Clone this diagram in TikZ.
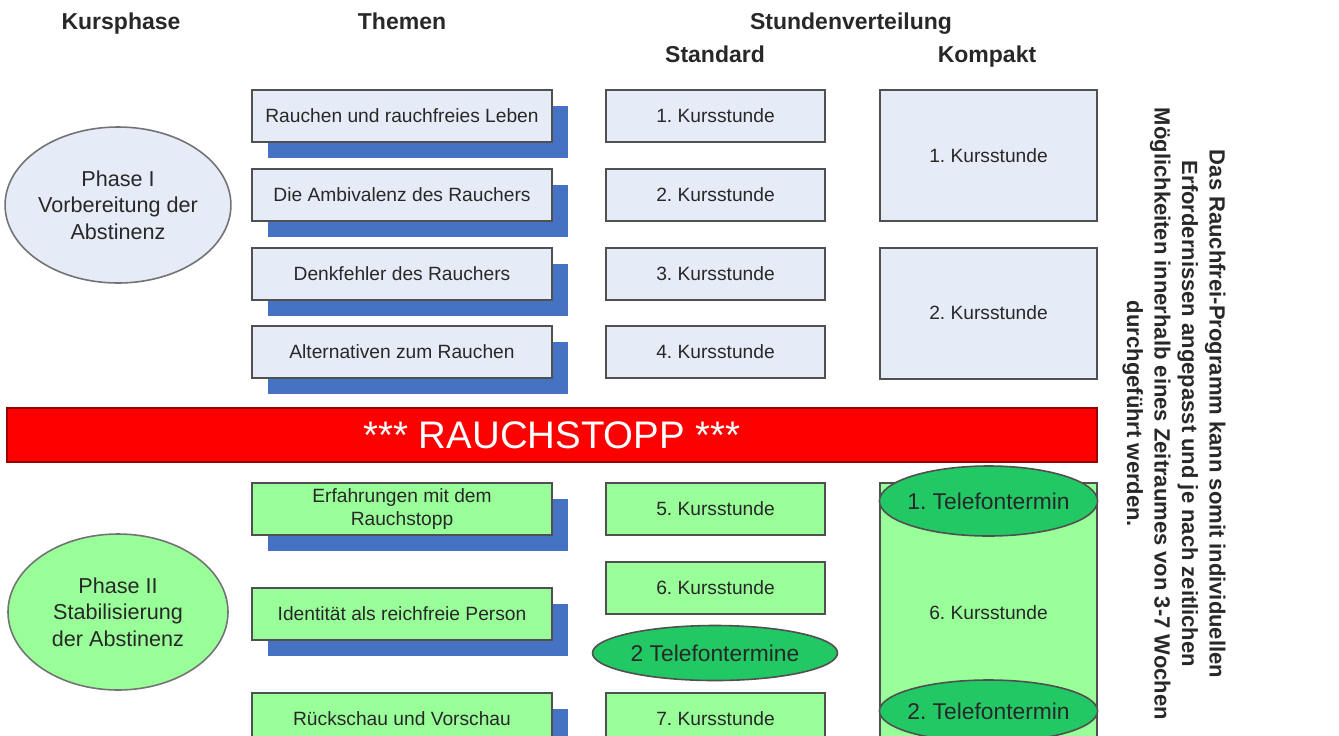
\documentclass[tikz,border=0pt]{standalone}
\usepackage{fontspec}
\setmainfont{Liberation Sans}
\frenchspacing
\usetikzlibrary{shapes.geometric}
\usetikzlibrary{shadows}
\definecolor{mblue}{RGB}{230, 236, 247}
\definecolor{mshadow}{RGB}{70, 114, 196}
\definecolor{mgreen}{RGB}{153, 255, 153}
\definecolor{mdgreen}{RGB}{34, 200, 100}
\definecolor{mred}{RGB}{255, 0, 0}
\definecolor{mline}{RGB}{80, 80, 80}
\definecolor{mtext}{RGB}{40, 40, 40}
\tikzset{thema/.style = {draw=mline, line width=1pt, minimum width=150pt, minimum height=26pt,
                         inner sep=2pt, align=center, text=mtext, font=\fontsize{9.6}{11.5}\selectfont,
                         copy shadow={shadow xshift=8pt, shadow yshift=-8pt, fill=mshadow, draw=none}},
         stunde/.style = {draw=mline, line width=1pt, minimum width=109.5pt, minimum height=26pt,
                          text=mtext, font=\fontsize{9.6}{11.5}\selectfont},
         phase/.style = {ellipse, draw=mline!80, line width=0.8pt, minimum width=110pt, minimum height=78pt,
                         align=center, inner sep=0pt, text=mtext, font=\fontsize{10.8}{13.25}\selectfont},
         telefon/.style = {ellipse, draw=mline, fill=mdgreen, line width=0.8pt, inner sep=0pt,
                           text=mtext, font=\fontsize{11.4}{13}\selectfont},
         kopf/.style = {anchor=base, text=mtext, font=\bfseries\fontsize{11.5}{13}\selectfont}}

\begin{document}
\begin{tikzpicture}[x=0.5pt, y=-0.5pt]
    \useasboundingbox (0, 0) rectangle (1339, 735);
    \clip (0, 0) rectangle (1339, 735);

    \node [kopf] (kursphase) at (121, 29) {Kursphase};
    \node [kopf] (themen) at (402, 29) {Themen};
    \node [kopf] (verteilung) at (851, 29) {Stundenverteilung};
    \node [kopf] (standard) at (715, 62) {Standard};
    \node [kopf] (kompakt) at (987, 62) {Kompakt};

    \begin{scope}
      \node [phase, fill=mblue] (phase1) at (118, 205) {Phase I\\Vorbereitung der\\Abstinenz};
      \node [thema, fill=mblue] (t1) at (402, 116) {Rauchen und rauchfreies Leben};
      \node [thema, fill=mblue] (t2) at (402, 195) {Die Ambivalenz des Rauchers};
      \node [thema, fill=mblue] (t3) at (402, 274) {Denkfehler des Rauchers};
      \node [thema, fill=mblue] (t4) at (402, 352) {Alternativen zum Rauchen};
      \node [stunde, fill=mblue] (s1) at (715.5, 116) {1. Kursstunde};
      \node [stunde, fill=mblue] (s2) at (715.5, 195) {2. Kursstunde};
      \node [stunde, fill=mblue] (s3) at (715.5, 274) {3. Kursstunde};
      \node [stunde, fill=mblue] (s4) at (715.5, 352) {4. Kursstunde};
      \node [stunde, fill=mblue, minimum width=108.5pt, minimum height=65.5pt] (k1) at (988.5, 155.5) {1. Kursstunde};
      \node [stunde, fill=mblue, minimum width=108.5pt, minimum height=65.5pt] (k2) at (988.5, 313) {2. Kursstunde};
    \end{scope}

    \node [draw=mred!60!black, fill=mred, line width=0.8pt, minimum width=545pt, minimum height=27pt,
           text=white, font=\fontsize{19.2}{22}\selectfont] (stopp) at (552, 435) {*** RAUCHSTOPP ***};

    \begin{scope}
      \node [phase, fill=mgreen] (phase2) at (118, 612) {Phase II\\Stabilisierung\\der Abstinenz};
      \node [thema, fill=mgreen] (t5) at (402, 509) {Erfahrungen mit dem\\Rauchstopp};
      \node [thema, fill=mgreen] (t6) at (402, 614) {Identität als reichfreie Person};
      \node [thema, fill=mgreen] (t7) at (402, 719) {Rückschau und Vorschau};
      \node [stunde, fill=mgreen] (s5) at (715.5, 509) {5. Kursstunde};
      \node [stunde, fill=mgreen] (s6) at (715.5, 588) {6. Kursstunde};
      \node [telefon, minimum width=122.5pt, minimum height=27.5pt] (tel) at (715, 653) {2 Telefontermine};
      \node [stunde, fill=mgreen] (s7) at (715.5, 719) {7. Kursstunde};
      \node [stunde, fill=mgreen, minimum width=108.5pt, minimum height=143pt] (k3) at (988.5, 626) {};
      \node [telefon, inner xsep=-2pt, minimum width=108.5pt, minimum height=35pt] (tel1) at (988.5, 501) {1. Telefontermin};
      \node [text=mtext, font=\fontsize{9.6}{11.5}\selectfont] (k3text) at (988.5, 613) {6. Kursstunde};
      \node [telefon, inner xsep=-2pt, minimum width=108.5pt, minimum height=31pt] (tel2) at (988.5, 711) {2. Telefontermin};
    \end{scope}

    \node [rotate=-90, align=center, text=mtext, font=\bfseries\fontsize{11}{13.75}\selectfont] (hinweis) at (1174, 414)
      {Das Rauchfrei-Programm kann somit individuellen\\Erfordernissen angepasst und je nach zeitlichen\\
       Möglichkeiten innerhalb eines Zeitraumes von 3-7 Wochen\\durchgeführt werden.};
  \end{tikzpicture}
\end{document}
